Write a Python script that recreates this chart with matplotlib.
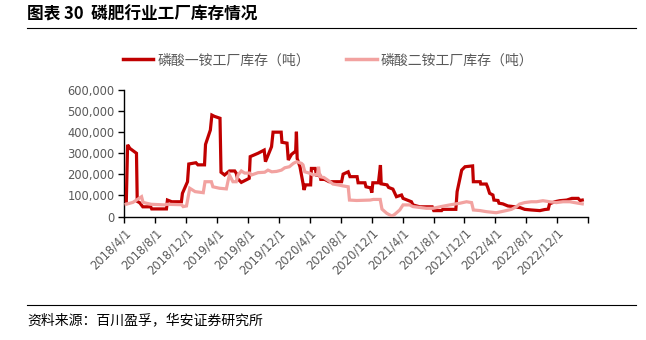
import pandas as pd
import matplotlib
matplotlib.use("Agg")
import matplotlib.pyplot as plt
import matplotlib.dates as mdates
from matplotlib.lines import Line2D

plt.rcParams['font.family'] = ['Noto Sans CJK SC', 'DejaVu Sans']

TITLE = "图表 30  磷肥行业工厂库存情况"
SOURCE = "资料来源：百川盈孚，华安证券研究所"
MAP_LABEL = "磷酸一铵工厂库存（吨）"
DAP_LABEL = "磷酸二铵工厂库存（吨）"

# 磷酸一铵工厂库存（吨）
map_dates = [
    "2018-04-09", "2018-04-14", "2018-04-23", "2018-05-19", "2018-05-22", "2018-06-01",
    "2018-06-13", "2018-07-14", "2018-07-18", "2018-09-14", "2018-09-18", "2018-10-05",
    "2018-11-12", "2018-11-16", "2018-12-06", "2018-12-11", "2019-01-08", "2019-01-16",
    "2019-02-11", "2019-02-15", "2019-03-06", "2019-03-12", "2019-03-22", "2019-04-13",
    "2019-04-17", "2019-05-01", "2019-05-09", "2019-05-20", "2019-06-10", "2019-06-16",
    "2019-06-21", "2019-07-06", "2019-08-06", "2019-08-10", "2019-09-10", "2019-10-04",
    "2019-10-09", "2019-11-02", "2019-11-08", "2019-12-10", "2019-12-13", "2020-01-02",
    "2020-01-07", "2020-01-20", "2020-02-05", "2020-02-08", "2020-02-11", "2020-02-22",
    "2020-03-05", "2020-03-09", "2020-03-15", "2020-04-04", "2020-04-07", "2020-04-22",
    "2020-04-27", "2020-05-10", "2020-05-14", "2020-05-29", "2020-06-16", "2020-08-04",
    "2020-08-10", "2020-08-30", "2020-09-06", "2020-10-04", "2020-10-08", "2020-11-04",
    "2020-11-08", "2020-11-26", "2020-12-01", "2020-12-05", "2020-12-27", "2021-01-04",
    "2021-01-07", "2021-01-30", "2021-02-05", "2021-02-22", "2021-03-01", "2021-03-08",
    "2021-03-28", "2021-04-03", "2021-05-06", "2021-05-12", "2021-06-08", "2021-07-27",
    "2021-08-02", "2021-09-02", "2021-09-06", "2021-10-28", "2021-11-02", "2021-11-20",
    "2021-12-03", "2022-01-02", "2022-01-05", "2022-02-01", "2022-02-03", "2022-02-25",
    "2022-03-02", "2022-03-10", "2022-03-23", "2022-03-27", "2022-04-12", "2022-04-16",
    "2022-05-01", "2022-05-21", "2022-06-05", "2022-07-09", "2022-07-26", "2022-08-21",
    "2022-09-24", "2022-10-13", "2022-10-27", "2022-11-01", "2022-11-22", "2022-12-11",
    "2023-01-08", "2023-01-28", "2023-02-22", "2023-03-01", "2023-03-10",
]
map_values = [
    73000, 340000, 323000, 300000, 72000, 65000,
    46000, 46000, 36000, 36000, 78000, 70000,
    70000, 110000, 165000, 249000, 255000, 245000,
    245000, 342000, 410000, 481000, 475000, 466000,
    210000, 197000, 205000, 216000, 216000, 205000,
    180000, 162000, 181000, 284000, 300000, 315000,
    260000, 331000, 400000, 400000, 352000, 348000,
    268000, 295000, 310000, 402000, 275000, 236000,
    157000, 126000, 150000, 150000, 228000, 228000,
    197000, 197000, 176000, 176000, 165000, 165000,
    201000, 212000, 189000, 189000, 160000, 160000,
    141000, 136000, 113000, 160000, 160000, 244000,
    155000, 150000, 138000, 130000, 112000, 94000,
    102000, 86000, 70000, 55000, 46000, 46000,
    28000, 28000, 34000, 34000, 118000, 220000,
    236000, 240000, 165000, 165000, 154000, 154000,
    140000, 110000, 102000, 78000, 76000, 63000,
    60000, 50000, 48000, 42000, 34000, 31000,
    28000, 33000, 35000, 60000, 70000, 75000,
    78000, 86000, 86000, 76000, 78000,
]

# 磷酸二铵工厂库存（吨）
dap_dates = [
    "2018-04-08", "2018-05-05", "2018-05-19", "2018-06-08", "2018-06-14", "2018-06-27",
    "2018-07-16", "2018-09-08", "2018-09-15", "2018-11-13", "2018-11-19", "2018-12-02",
    "2018-12-15", "2019-01-05", "2019-02-06", "2019-02-13", "2019-03-10", "2019-03-16",
    "2019-04-11", "2019-05-08", "2019-05-14", "2019-05-20", "2019-06-03", "2019-06-16",
    "2019-06-23", "2019-07-06", "2019-07-19", "2019-08-08", "2019-08-15", "2019-09-10",
    "2019-10-06", "2019-10-19", "2019-11-03", "2019-11-22", "2019-12-11", "2019-12-24",
    "2020-01-11", "2020-01-27", "2020-02-09", "2020-02-28", "2020-03-05", "2020-03-12",
    "2020-04-01", "2020-04-14", "2020-05-01", "2020-05-05", "2020-05-10", "2020-05-26",
    "2020-06-06", "2020-06-19", "2020-07-01", "2020-07-21", "2020-08-10", "2020-08-30",
    "2020-09-04", "2020-10-02", "2020-11-24", "2020-12-07", "2021-01-03", "2021-01-10",
    "2021-01-29", "2021-02-18", "2021-03-01", "2021-03-21", "2021-04-03", "2021-04-29",
    "2021-05-12", "2021-07-04", "2021-07-30", "2021-08-26", "2021-10-04", "2021-11-13",
    "2021-12-09", "2021-12-29", "2022-01-05", "2022-02-01", "2022-02-25", "2022-04-05",
    "2022-04-25", "2022-05-14", "2022-06-04", "2022-06-23", "2022-07-06", "2022-07-26",
    "2022-08-21", "2022-09-11", "2022-10-06", "2022-11-02", "2022-11-28", "2022-12-24",
    "2023-01-20", "2023-02-22", "2023-03-10",
]
dap_values = [
    58000, 67000, 78000, 94000, 67000, 63000,
    58000, 55000, 58000, 56000, 47000, 50000,
    134000, 118000, 113000, 165000, 165000, 141000,
    134000, 131000, 165000, 197000, 165000, 165000,
    197000, 216000, 206000, 206000, 197000, 208000,
    210000, 220000, 212000, 214000, 220000, 231000,
    236000, 252000, 260000, 252000, 245000, 212000,
    205000, 197000, 200000, 236000, 189000, 185000,
    176000, 165000, 154000, 150000, 145000, 141000,
    78000, 76000, 78000, 81000, 81000, 35000,
    15000, 2000, 10000, 31000, 55000, 55000,
    47000, 39000, 39000, 46000, 55000, 63000,
    70000, 66000, 31000, 28000, 23000, 18000,
    23000, 28000, 34000, 46000, 59000, 66000,
    70000, 70000, 75000, 70000, 66000, 70000,
    70000, 63000, 60000,
]

# x axis: one tick every four months
tick_dates = pd.date_range("2018-04-01", "2023-04-01", freq="4MS")
y_ticks = [0, 100000, 200000, 300000, 400000, 500000, 600000]

MAP_COLOR = "#C00000"
DAP_COLOR = "#F2A2A0"
GREY = "#595959"

fig = plt.figure(figsize=(6.46, 3.40), dpi=100)
ax = fig.add_axes([0.1924, 0.3632, 0.7176, 0.3721])

ax.plot(pd.to_datetime(map_dates), map_values, color=MAP_COLOR, lw=2.3,
        solid_joinstyle="miter", zorder=3)
ax.plot(pd.to_datetime(dap_dates), dap_values, color=DAP_COLOR, lw=2.3,
        solid_joinstyle="miter", zorder=4)

ax.set_xlim(tick_dates[0], tick_dates[-1])
ax.set_ylim(0, 600000)

ax.set_xticks(tick_dates)
labels = [f"{d.year}/{d.month}/{d.day}" for d in tick_dates[:-1]] + [""]
ax.set_xticklabels(labels, rotation=45, ha="right", va="top", rotation_mode="anchor",
                   fontsize=8.3, color=GREY, family="DejaVu Sans")
ax.set_yticks(y_ticks)
ax.set_yticklabels([f"{v:,}" for v in y_ticks], fontsize=8.3, color=GREY,
                   family="DejaVu Sans")
ax.tick_params(axis="both", direction="out", length=4, width=1, color="black", pad=3)

for side in ("top", "right"):
    ax.spines[side].set_visible(False)
for side in ("left", "bottom"):
    ax.spines[side].set_color("black")
    ax.spines[side].set_linewidth(1)

handles = [Line2D([], [], color=MAP_COLOR, lw=2.5), Line2D([], [], color=DAP_COLOR, lw=2.5)]
fig.legend(handles, [MAP_LABEL, DAP_LABEL], loc="center", bbox_to_anchor=(0.508, 0.823),
           ncol=2, frameon=False, fontsize=10, labelcolor=GREY, handlelength=2.2,
           handletextpad=0.3, columnspacing=2.6)

# title, rules and source note
fig.text(0.042, 0.956, TITLE, fontsize=12, fontweight="bold", color="black",
         ha="left", va="center")
fig.add_artist(Line2D([0.042, 0.985], [0.917, 0.917], color="black", lw=0.8))
fig.add_artist(Line2D([0.042, 0.985], [0.103, 0.103], color="black", lw=0.8))
fig.text(0.042, 0.058, SOURCE, fontsize=10, color="black", ha="left", va="center")

fig.savefig("out.png", dpi=100)
